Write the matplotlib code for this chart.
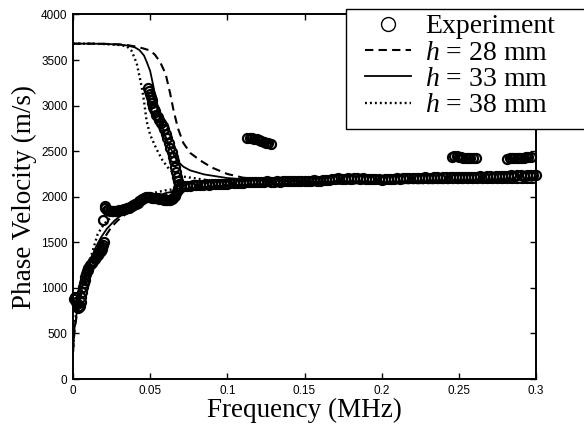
import matplotlib
matplotlib.use("Agg")
import matplotlib.pyplot as plt
from matplotlib.patches import Rectangle

# ---------------- data ----------------
# theory: upper branches (f in MHz, v in m/s)
up28_f = [0, 0.01, 0.02, 0.03, 0.035, 0.04, 0.045, 0.05, 0.053, 0.0564, 0.06, 0.063, 0.065,
          0.068, 0.0715, 0.076, 0.0823, 0.09, 0.1, 0.11, 0.12, 0.13, 0.15, 0.2, 0.25, 0.3]
up28_v = [3680, 3680, 3678, 3672, 3665, 3650, 3630, 3605, 3560, 3480, 3350, 3130, 2960,
          2750, 2590, 2480, 2400, 2320, 2250, 2210, 2190, 2180, 2170, 2162, 2158, 2155]

up33_f = [0, 0.01, 0.02, 0.03, 0.035, 0.04, 0.043, 0.046, 0.048, 0.05, 0.052, 0.054, 0.056,
          0.058, 0.06, 0.063, 0.0672, 0.0715, 0.0758, 0.085, 0.1, 0.11, 0.12, 0.14, 0.17, 0.2, 0.25, 0.3]
up33_v = [3680, 3680, 3678, 3670, 3660, 3640, 3610, 3550, 3470, 3380, 3220, 3020, 2870,
          2760, 2660, 2540, 2400, 2330, 2290, 2245, 2205, 2192, 2182, 2170, 2163, 2160, 2157, 2155]

up38_f = [0, 0.01, 0.02, 0.03, 0.035, 0.038, 0.0413, 0.0445, 0.046, 0.0477, 0.05, 0.0542,
          0.058, 0.062, 0.065, 0.07, 0.0866, 0.1, 0.12, 0.15, 0.2, 0.25, 0.3]
up38_v = [3680, 3680, 3676, 3665, 3650, 3600, 3463, 3207, 3050, 2830, 2680, 2520,
          2400, 2310, 2260, 2225, 2183, 2175, 2168, 2162, 2158, 2156, 2155]

# theory: lower branches
lo28_f = [0, 0.001, 0.003, 0.006, 0.01, 0.015, 0.02, 0.025, 0.029, 0.035, 0.045, 0.055,
          0.065, 0.075, 0.09, 0.1, 0.13, 0.2, 0.3]
lo28_v = [300, 540, 760, 980, 1190, 1400, 1540, 1670, 1740, 1820, 1920, 1990,
          2040, 2075, 2105, 2120, 2140, 2150, 2152]

lo33_f = [0, 0.001, 0.003, 0.006, 0.01, 0.014, 0.018, 0.022, 0.027, 0.033, 0.04, 0.05,
          0.06, 0.07, 0.085, 0.1, 0.13, 0.2, 0.3]
lo33_v = [300, 560, 790, 1010, 1230, 1420, 1550, 1650, 1740, 1820, 1900, 1980,
          2040, 2075, 2105, 2125, 2140, 2150, 2152]

lo38_f = [0, 0.001, 0.003, 0.006, 0.01, 0.016, 0.02, 0.025, 0.03, 0.04, 0.05, 0.06,
          0.07, 0.085, 0.1, 0.13, 0.2, 0.3]
lo38_v = [300, 600, 830, 1060, 1250, 1590, 1700, 1780, 1840, 1960, 2035, 2070,
          2095, 2115, 2130, 2145, 2150, 2152]

# experiment: lower rising branch
exA_f = [0.0008, 0.0012, 0.0018, 0.0025, 0.003, 0.0035, 0.004, 0.0045, 0.005, 0.0055,
         0.006, 0.0065, 0.007, 0.0075, 0.008, 0.0085, 0.009, 0.0095, 0.010, 0.011,
         0.012, 0.013, 0.014, 0.015, 0.016, 0.017, 0.0175, 0.018, 0.0185, 0.019,
         0.0195, 0.020, 0.0195]
exA_v = [880, 900, 850, 820, 790, 780, 790, 800, 840, 900,
         960, 1010, 1050, 1090, 1120, 1150, 1180, 1200, 1220, 1250,
         1270, 1290, 1320, 1340, 1360, 1380, 1400, 1410, 1430, 1450,
         1470, 1500, 1740]

# experiment: plateau 0.02-0.068
exB_f = [0.0205, 0.021, 0.022, 0.023, 0.024, 0.025, 0.026, 0.027, 0.028, 0.029, 0.030,
         0.031, 0.032, 0.033, 0.034, 0.035, 0.036, 0.037, 0.038, 0.039, 0.040, 0.041,
         0.042, 0.043, 0.044, 0.045, 0.046, 0.047, 0.048, 0.049, 0.050, 0.051, 0.052,
         0.053, 0.054, 0.055, 0.056, 0.057, 0.058, 0.059, 0.060, 0.061, 0.062, 0.063,
         0.064, 0.065, 0.066, 0.067, 0.068]
exB_v = [1900, 1880, 1860, 1850, 1845, 1845, 1840, 1840, 1840, 1845, 1850,
         1855, 1860, 1865, 1870, 1875, 1880, 1885, 1895, 1905, 1915, 1925,
         1935, 1950, 1965, 1980, 1990, 1995, 2000, 2000, 1995, 1990, 1985,
         1985, 1985, 1985, 1980, 1975, 1970, 1965, 1960, 1960, 1960, 1965,
         1975, 1990, 2010, 2040, 2070]

# experiment: descending upper branch
exC_f = [0.0488, 0.0495, 0.050, 0.0505, 0.051, 0.0515, 0.052, 0.0525, 0.053, 0.054, 0.055,
         0.056, 0.057, 0.058, 0.059, 0.060, 0.061, 0.062, 0.063, 0.064, 0.065, 0.0657,
         0.0663, 0.0668, 0.0672, 0.0678, 0.0685]
exC_v = [3190, 3160, 3130, 3095, 3060, 3025, 2990, 2965, 2940, 2900, 2870,
         2840, 2810, 2780, 2740, 2690, 2640, 2590, 2540, 2490, 2440, 2390,
         2330, 2270, 2220, 2170, 2140]

# experiment: main band 0.068-0.3
exD_f = [0.068, 0.070, 0.072, 0.074, 0.076, 0.078, 0.080, 0.082, 0.084, 0.086, 0.088,
         0.090, 0.092, 0.094, 0.096, 0.098, 0.100, 0.102, 0.104, 0.106, 0.108, 0.110,
         0.112, 0.114, 0.116, 0.118, 0.120, 0.122, 0.124, 0.126, 0.128, 0.130, 0.132,
         0.134, 0.136, 0.138, 0.140, 0.142, 0.144, 0.146, 0.148, 0.150, 0.152, 0.154,
         0.156, 0.158, 0.160, 0.162, 0.164, 0.166, 0.168, 0.170, 0.172, 0.174, 0.176,
         0.178, 0.180, 0.182, 0.184, 0.186, 0.188, 0.190, 0.192, 0.194, 0.196, 0.198,
         0.200, 0.202, 0.204, 0.206, 0.208, 0.210, 0.212, 0.214, 0.216, 0.218, 0.220,
         0.222, 0.224, 0.226, 0.228, 0.230, 0.232, 0.234, 0.236, 0.238, 0.240, 0.242,
         0.244, 0.246, 0.248, 0.250, 0.252, 0.254, 0.256, 0.258, 0.260, 0.262, 0.264,
         0.266, 0.268, 0.270, 0.272, 0.274, 0.276, 0.278, 0.280, 0.282, 0.284, 0.286,
         0.288, 0.290, 0.292, 0.294, 0.296, 0.298, 0.300]
exD_v = [2100, 2110, 2115, 2120, 2120, 2125, 2125, 2130, 2130, 2135, 2130,
         2135, 2140, 2140, 2145, 2140, 2145, 2150, 2150, 2155, 2150, 2155,
         2160, 2165, 2160, 2160, 2165, 2160, 2165, 2170, 2165, 2165, 2170,
         2165, 2170, 2175, 2170, 2170, 2175, 2170, 2175, 2175, 2170, 2175,
         2180, 2175, 2175, 2180, 2180, 2185, 2190, 2200, 2205, 2200, 2200,
         2205, 2200, 2205, 2205, 2200, 2205, 2200, 2200, 2195, 2190, 2190,
         2185, 2190, 2195, 2200, 2200, 2205, 2200, 2205, 2205, 2210, 2210,
         2205, 2210, 2210, 2215, 2210, 2210, 2215, 2215, 2210, 2215, 2215,
         2220, 2215, 2215, 2220, 2220, 2215, 2220, 2220, 2215, 2220, 2225,
         2220, 2225, 2225, 2220, 2225, 2230, 2225, 2230, 2230, 2235, 2230,
         2235, 2235, 2230, 2235, 2240, 2240, 2240]

# experiment: isolated clusters
exE_f = [0.113, 0.1145, 0.116, 0.1175, 0.119, 0.1205, 0.122, 0.1235, 0.125, 0.1265, 0.128]
exE_v = [2640, 2645, 2640, 2635, 2630, 2625, 2615, 2605, 2595, 2585, 2578]
exF_f = [0.2455, 0.247, 0.2485, 0.250, 0.2515, 0.253, 0.2545, 0.256, 0.2575, 0.259, 0.261]
exF_v = [2440, 2445, 2445, 2440, 2435, 2430, 2430, 2425, 2425, 2420, 2420]
exG_f = [0.2815, 0.283, 0.2845, 0.286, 0.2875, 0.289, 0.2905, 0.292, 0.2935, 0.295, 0.2965]
exG_v = [2415, 2420, 2420, 2425, 2425, 2425, 2430, 2430, 2435, 2435, 2440]

xticks = [0, 0.05, 0.1, 0.15, 0.2, 0.25, 0.3]
xtick_labels = ["0", "0.05", "0.1", "0.15", "0.2", "0.25", "0.3"]
yticks = [0, 500, 1000, 1500, 2000, 2500, 3000, 3500, 4000]
ytick_labels = [str(v) for v in yticks]
legend_labels = ["Experiment", "$h$ = 28 mm", "$h$ = 33 mm", "$h$ = 38 mm"]

# ---------------- drawing ----------------
plt.rcParams["mathtext.fontset"] = "custom"
plt.rcParams["mathtext.rm"] = "Liberation Serif"
plt.rcParams["mathtext.it"] = "Liberation Serif:italic"

W, H = 584, 428
fig = plt.figure(figsize=(W / 100, H / 100), dpi=100)
ax = fig.add_axes([73 / W, 49 / H, 463 / W, 364.5 / H])

mk = dict(linestyle="none", marker="o", markersize=6.5, markerfacecolor="none",
          markeredgecolor="black", markeredgewidth=1.6, clip_on=False, zorder=3)
hExp, = ax.plot(exA_f, exA_v, **mk)
for fx, vy in [(exB_f, exB_v), (exC_f, exC_v), (exD_f, exD_v),
               (exE_f, exE_v), (exF_f, exF_v), (exG_f, exG_v)]:
    ax.plot(fx, vy, **mk)

ls28 = dict(color="black", linewidth=1.5, linestyle=(0, (4, 2.5)), zorder=2)
ls33 = dict(color="black", linewidth=1.3, linestyle="-", zorder=2)
ls38 = dict(color="black", linewidth=1.7, linestyle=(0, (0.8, 1.3)), zorder=2)
h28, = ax.plot(up28_f, up28_v, **ls28)
ax.plot(lo28_f, lo28_v, **ls28)
h33, = ax.plot(up33_f, up33_v, **ls33)
ax.plot(lo33_f, lo33_v, **ls33)
h38, = ax.plot(up38_f, up38_v, **ls38)
ax.plot(lo38_f, lo38_v, **ls38)

ax.set_xlim(0, 0.3)
ax.set_ylim(0, 4000)
ax.set_xticks(xticks)
ax.set_xticklabels(xtick_labels)
ax.set_yticks(yticks)
ax.set_yticklabels(ytick_labels)
ax.tick_params(direction="in", top=True, right=True, length=4, width=1,
               labelsize=8.5, pad=4)
for lab in ax.get_xticklabels() + ax.get_yticklabels():
    lab.set_family("Liberation Sans")
for sp in ax.spines.values():
    sp.set_linewidth(1.4)

ax.set_xlabel("Frequency (MHz)", family="Liberation Serif", fontsize=19.5, labelpad=1)
ax.set_ylabel("Phase Velocity (m/s)", family="Liberation Serif", fontsize=19.5, labelpad=3)

# legend box (white, drawn over the axes corner)
box = Rectangle((346 / W, 1 - 129 / H), (W + 5 - 346) / W, 120 / H,
                transform=fig.transFigure, facecolor="white", edgecolor="black",
                linewidth=1.0, zorder=4)
fig.patches.append(box)

leg = fig.legend([hExp, h28, h33, h38], legend_labels,
                 loc="upper left", bbox_to_anchor=(365 / W, 1 - 14 / H),
                 borderaxespad=0, borderpad=0,
                 prop={"family": "Liberation Serif", "size": 20},
                 frameon=False,
                 handlelength=1.65, handletextpad=0.5, labelspacing=0.03,
                 numpoints=1)
leg.set_zorder(5)
leg.legend_handles[0].set_markersize(10)
leg.legend_handles[0].set_markeredgewidth(1.0)

fig.savefig("out.png", dpi=100)
